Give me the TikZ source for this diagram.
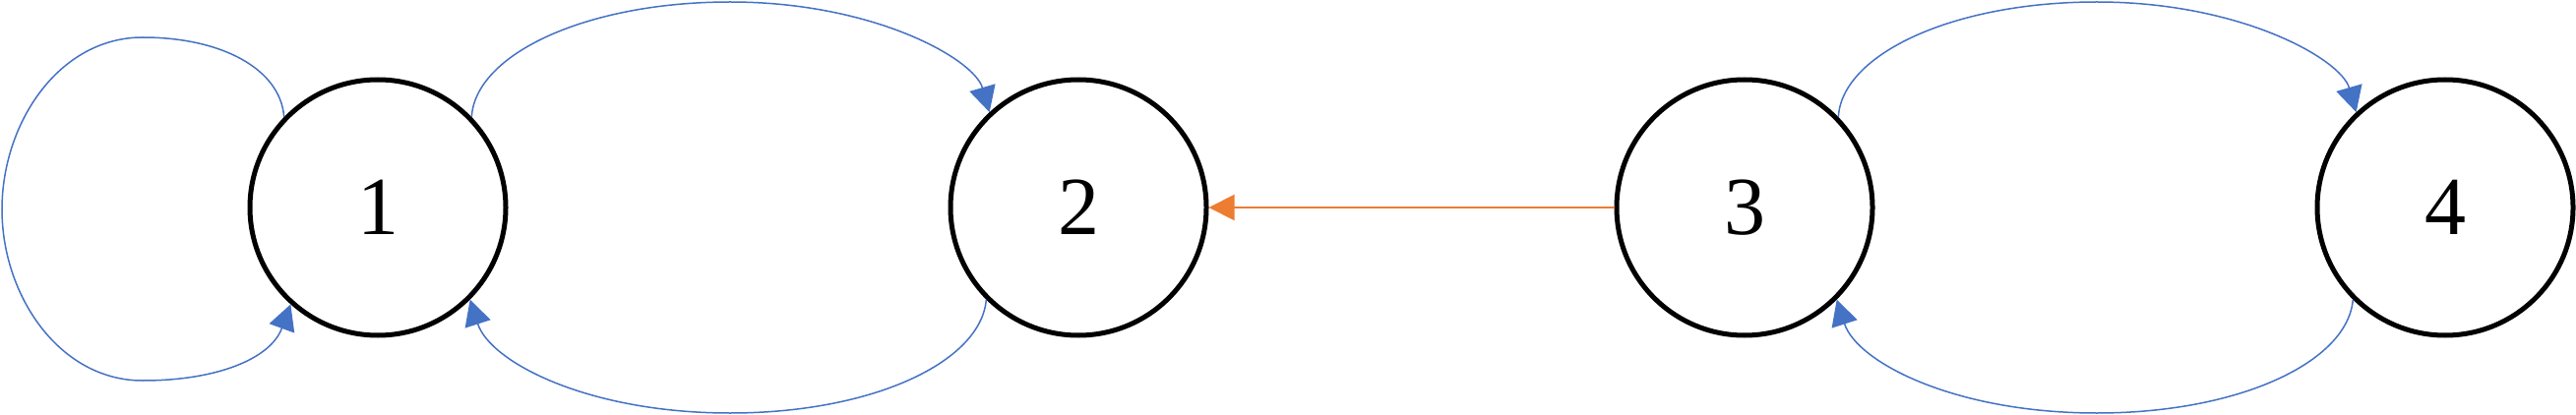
\documentclass[tikz,border=0pt]{standalone}
\usepackage{fontspec}
\setmainfont{Liberation Serif}
\usetikzlibrary{arrows.meta}
\definecolor{eblue}{HTML}{4472C4}
\definecolor{eorange}{HTML}{ED7D31}
\begin{document}
\begin{tikzpicture}[x=1pt,y=-1pt,
  state/.style={circle,draw=black,line width=5pt,minimum size=260pt,inner sep=0pt,
    font=\fontsize{84}{84}\selectfont},
  bluearc/.style={draw=eblue,line width=1.5pt,-{Triangle[length=26pt,width=27pt]}},
  orangearc/.style={draw=eorange,line width=2pt,-{Triangle[length=26pt,width=26pt]}}]
\useasboundingbox (0,0) rectangle (2618,422);
\node[state] (n1) at (384,211) {1};
\node[state] (n2) at (1096,211) {2};
\node[state] (n3) at (1773,211) {3};
\node[state] (n4) at (2485,211) {4};
% self loop on 1
\draw[bluearc] (n1.136) .. controls (285,70) and (225,38) .. (145,38)
  .. controls (60,38) and (2,125) .. (2,213)
  .. controls (2,300) and (60,387) .. (145,387)
  .. controls (220,387) and (275,365) .. (n1.-132);
% 1 -> 2 top
\draw[bluearc] (n1.44) .. controls (483,55) and (596,2) .. (742,2)
  .. controls (888,2) and (990,60) .. (n2.133);
% 2 -> 1 bottom
\draw[bluearc] (n2.-135) .. controls (997,368) and (887,420) .. (742,420)
  .. controls (597,420) and (498,368) .. (n1.-45);
% 3 -> 2
\draw[orangearc] (n3.west) -- (n2.east);
% 3 -> 4 top
\draw[bluearc] (n3.44) .. controls (1872,55) and (1985,2) .. (2131,2)
  .. controls (2277,2) and (2379,60) .. (n4.133);
% 4 -> 3 bottom
\draw[bluearc] (n4.-135) .. controls (2386,368) and (2276,420) .. (2131,420)
  .. controls (1986,420) and (1887,368) .. (n3.-45);
\end{tikzpicture}
\end{document}
